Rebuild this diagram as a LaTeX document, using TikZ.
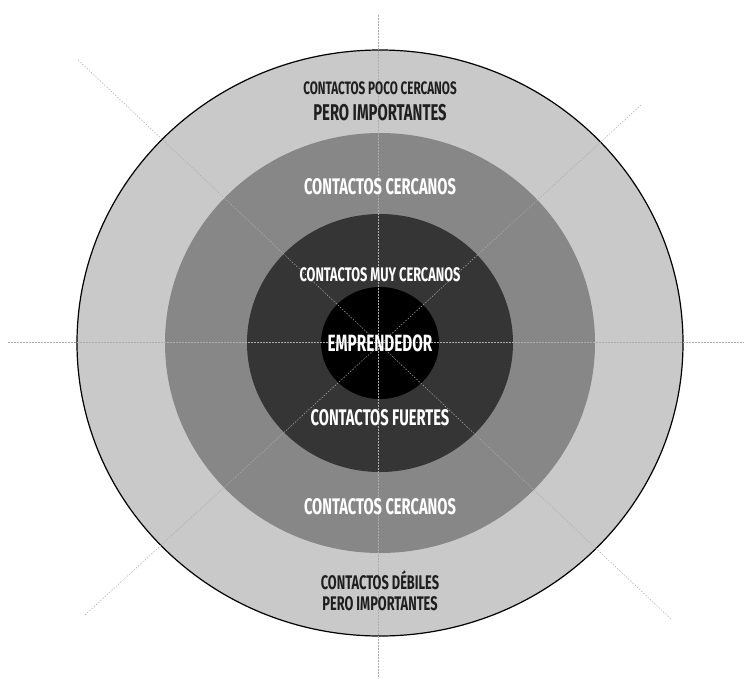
\documentclass[tikz,border=0pt]{standalone}
\usepackage{fontspec}
\newfontfamily\dinfont{Fira Sans}[FakeStretch=0.65]
\usetikzlibrary{shapes.geometric}

\definecolor{ringlight}{HTML}{C9C9C9}
\definecolor{ringmid}{HTML}{878787}
\definecolor{ringdark}{HTML}{353535}

\begin{document}
\begin{tikzpicture}[
  x=1pt, y=-1pt,
  ring/.style={ellipse, inner sep=0pt, draw=none},
  guide/.style={gray!65, line width=0.5pt, dash pattern=on 1.5pt off 1.5pt},
  lbl/.style={font=\dinfont\bfseries\fontsize{22.6}{24}\selectfont, text=white, inner sep=0pt},
  lbldark/.style={lbl, text=black!88}
]
\useasboundingbox (0,0) rectangle (744,678);

% Center point
\coordinate (c) at (380,343);

% Rings, outside in
\node[ring, fill=ringlight, draw=black, line width=1.2pt,
      minimum width=606, minimum height=586] (outer) at (c) {};
\node[ring, fill=ringmid, minimum width=430, minimum height=420] (middle) at (c) {};
\node[ring, fill=ringdark, minimum width=266, minimum height=258] (inner) at (c) {};
\node[ring, fill=black, minimum width=118, minimum height=112] (core) at (c) {};

% Guide lines
\coordinate (gt) at (378,15);
\coordinate (gb) at (378,678);
\coordinate (gl) at (8,342);
\coordinate (gr) at (744,342);
\coordinate (gtl) at (78,60);
\coordinate (gbr) at (672,620);
\coordinate (gtr) at (641,105);
\coordinate (gbl) at (85,615);
\draw[guide] (gt) -- (gb);
\draw[guide] (gl) -- (gr);
\draw[guide] (gtl) -- (gbr);
\draw[guide] (gtr) -- (gbl);

% Labels
\node[lbldark, font=\dinfont\bfseries\fontsize{18}{20}\selectfont] (pocoA) at (380,88) {CONTACTOS POCO CERCANOS};
\node[lbldark, font=\dinfont\bfseries\fontsize{22.8}{24}\selectfont] (pocoB) at (380,113) {PERO IMPORTANTES};
\node[lbl] (cercanosA) at (380,187) {CONTACTOS CERCANOS};
\node[lbl, font=\dinfont\bfseries\fontsize{19.6}{22}\selectfont] (muy) at (380,275) {CONTACTOS MUY CERCANOS};
\node[lbl, font=\dinfont\bfseries\fontsize{23.5}{25}\selectfont] (emp) at (c) {EMPRENDEDOR};
\node[lbl] (fuertes) at (380,418) {CONTACTOS FUERTES};
\node[lbl] (cercanosB) at (380,507) {CONTACTOS CERCANOS};
\node[lbldark, font=\dinfont\bfseries\fontsize{19.7}{21}\selectfont] (debilA) at (380,580) {CONTACTOS DÉBILES};
\node[lbldark, font=\dinfont\bfseries\fontsize{19.7}{21}\selectfont] (debilB) at (380,604) {PERO IMPORTANTES};

\end{tikzpicture}
\end{document}
